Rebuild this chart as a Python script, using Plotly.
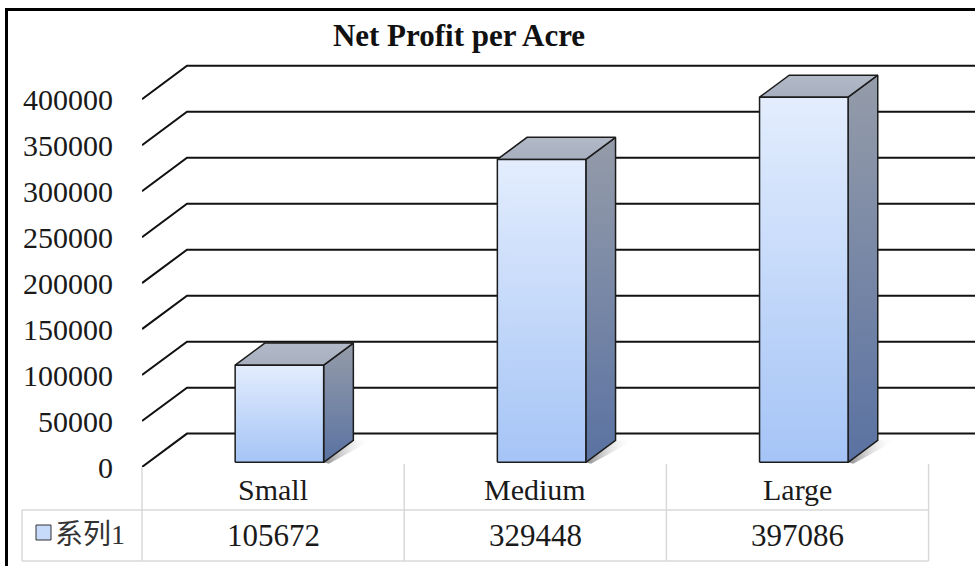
import plotly.graph_objects as go

# ---------------- data ----------------
categories = ["Small", "Medium", "Large"]
values = [105672, 329448, 397086]
series_name = "系列1"
y_ticks = [0, 50000, 100000, 150000, 200000, 250000, 300000, 350000, 400000]
y_tick_text = [str(v) for v in y_ticks]
chart_title = "Net Profit per Acre"

# ---------------- geometry ----------------
W, H = 975, 566
PL, PR, PT, PB = 142, 975, 40, 467          # plot area in pixels
X_UNIT = 262.2                               # px per category
Y_SCALE = 0.0009195                          # px per value unit
X0 = -0.5
X1 = X0 + (PR - PL) / X_UNIT
Y0 = 0
Y1 = (PB - PT) / Y_SCALE
DX = 45 / X_UNIT                             # depth offset (x units)
DY = 33.4 / Y_SCALE                          # depth offset (value units)
F0, F1 = 0.14, 0.80                          # bar front/back depth fractions
BW = 88.5 / X_UNIT                           # bar width

SERIF = "Liberation Serif, Times New Roman, serif"
CJK = "Liberation Serif, Noto Sans CJK SC, serif"
TXT = "#1a1a1a"


def px_x(px):
    return (px - PL) / (PR - PL)


def px_y(py):
    return (PB - py) / (PB - PT)


def data_to_px_x(x):
    return PL + (x - X0) * X_UNIT


fig = go.Figure()

# back wall gridlines + floor diagonals
for v in y_ticks:
    fig.add_trace(go.Scatter(
        x=[X0, X0 + DX, X1], y=[v, v + DY, v + DY],
        mode="lines", line=dict(color="#111111", width=2),
        hoverinfo="skip", showlegend=False))

OUT = "#1c1c1c"
for i, v in enumerate(values):
    xl = i - BW / 2
    xr = i + BW / 2
    f0x, f1x = F0 * DX, F1 * DX
    f0y, f1y = F0 * DY, F1 * DY
    # soft shadow
    fig.add_trace(go.Scatter(
        x=[xr + f0x, xr + f1x, xr + f1x + 0.07, xr + f0x + 0.02, xr + f0x],
        y=[f0y, f1y, f1y, f0y - 1500, f0y],
        mode="none", fill="toself",
        fillgradient=dict(type="horizontal",
                          colorscale=[[0, "rgba(40,40,40,0.55)"], [1, "rgba(255,255,255,0)"]]),
        hoverinfo="skip", showlegend=False))
    # side face
    fig.add_trace(go.Scatter(
        x=[xr + f0x, xr + f1x, xr + f1x, xr + f0x, xr + f0x],
        y=[f0y, f1y, v + f1y, v + f0y, f0y],
        mode="lines", fill="toself", line=dict(color=OUT, width=1.5),
        fillgradient=dict(type="vertical", colorscale=[[0, "#5a72a2"], [1, "#959ca9"]]),
        hoverinfo="skip", showlegend=False))
    # top face
    fig.add_trace(go.Scatter(
        x=[xl + f0x, xr + f0x, xr + f1x, xl + f1x, xl + f0x],
        y=[v + f0y, v + f0y, v + f1y, v + f1y, v + f0y],
        mode="lines", fill="toself", line=dict(color=OUT, width=1.5),
        fillgradient=dict(type="vertical", colorscale=[[0, "#a7afbf"], [1, "#b2b9c7"]]),
        hoverinfo="skip", showlegend=False))
    # front face
    fig.add_trace(go.Scatter(
        x=[xl + f0x, xr + f0x, xr + f0x, xl + f0x, xl + f0x],
        y=[f0y, f0y, v + f0y, v + f0y, f0y],
        mode="lines", fill="toself", line=dict(color=OUT, width=1.5),
        fillgradient=dict(type="vertical", colorscale=[[0, "#a5c4f6"], [1, "#e3edfd"]]),
        name=series_name, hovertext=f"{categories[i]}: {v}", hoverinfo="text",
        showlegend=False))

shapes = []
GRID = "#d9d9d9"
# data table lines
bounds_px = [data_to_px_x(i - 0.5) for i in range(len(categories) + 1)]
table_left = 22
row_top, row_mid, row_bot = 464, 510, 561
for k, bx in enumerate(bounds_px):
    top = PB if k == 0 else row_top
    shapes.append(dict(type="line", xref="paper", yref="paper",
                       x0=px_x(bx), x1=px_x(bx), y0=px_y(top), y1=px_y(row_bot),
                       line=dict(color=GRID, width=1.5)))
for yy in (row_mid, row_bot):
    shapes.append(dict(type="line", xref="paper", yref="paper",
                       x0=px_x(table_left), x1=px_x(bounds_px[-1]), y0=px_y(yy), y1=px_y(yy),
                       line=dict(color=GRID, width=1.5)))
shapes.append(dict(type="line", xref="paper", yref="paper",
                   x0=px_x(table_left), x1=px_x(table_left), y0=px_y(row_mid), y1=px_y(row_bot),
                   line=dict(color=GRID, width=1.5)))
# legend key
shapes.append(dict(type="rect", xref="paper", yref="paper",
                   x0=px_x(36), x1=px_x(51), y0=px_y(540), y1=px_y(525),
                   fillcolor="#c6dafa", line=dict(color="#333", width=1)))
# outer frame (top and left edges)
shapes.append(dict(type="line", xref="paper", yref="paper",
                   x0=px_x(5), x1=px_x(W + 5), y0=px_y(9.5), y1=px_y(9.5),
                   line=dict(color="#000", width=3)))
shapes.append(dict(type="line", xref="paper", yref="paper",
                   x0=px_x(6.5), x1=px_x(6.5), y0=px_y(8), y1=px_y(H + 5),
                   line=dict(color="#000", width=3)))

annotations = []
for i, (c, v) in enumerate(zip(categories, values)):
    annotations.append(dict(x=i, y=px_y(489), xref="x", yref="paper", text=c,
                            showarrow=False, xanchor="center", yanchor="middle",
                            font=dict(family=SERIF, size=30, color=TXT)))
    annotations.append(dict(x=i, y=px_y(535), xref="x", yref="paper", text=str(v),
                            showarrow=False, xanchor="center", yanchor="middle",
                            font=dict(family=SERIF, size=31, color=TXT)))
annotations.append(dict(x=px_x(53), y=px_y(534), xref="paper", yref="paper", text=series_name,
                        showarrow=False, xanchor="left", yanchor="middle",
                        font=dict(family=CJK, size=28, color="#333")))

fig.update_layout(
    width=W, height=H,
    margin=dict(l=PL, r=W - PR, t=PT, b=H - PB, pad=0),
    paper_bgcolor="white", plot_bgcolor="white",
    title=dict(text=f"<b>{chart_title}</b>", x=459 / W, xanchor="center",
               y=1 - 35 / H, yanchor="middle", yref="container",
               font=dict(family=SERIF, size=31, color="#111")),
    xaxis=dict(range=[X0, X1], visible=False, fixedrange=True),
    yaxis=dict(range=[Y0, Y1], tickvals=y_ticks, ticktext=y_tick_text,
               showgrid=False, zeroline=False, showline=False, ticks="",
               ticklabelstandoff=28,
               tickfont=dict(family=SERIF, size=30, color=TXT), fixedrange=True),
    shapes=shapes, annotations=annotations, showlegend=False,
)

fig.write_html("out.html", config={"displayModeBar": False},
               post_script="document.body.style.margin='0';document.body.style.overflow='hidden';")
